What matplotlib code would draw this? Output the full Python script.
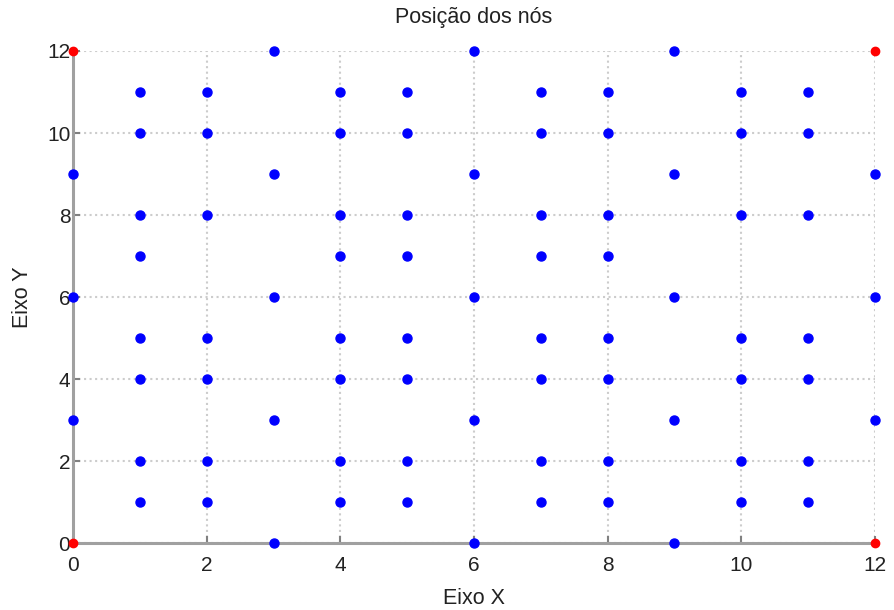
import numpy as np
import matplotlib
matplotlib.use('Agg')
import matplotlib.pyplot as plt

plt.rcParams['font.family'] = ['Liberation Sans', 'DejaVu Sans']

# posicoes dos nos (azul), por coluna x
col_x = [0, 1, 2, 3, 4, 5, 6, 7, 8, 9, 10, 11, 12]
col_y = [
    [3, 6, 9],
    [1, 2, 4, 5, 7, 8, 10, 11],
    [1, 2, 4, 5, 8, 10, 11],
    [0, 3, 6, 9, 12],
    [1, 2, 4, 5, 7, 8, 10, 11],
    [1, 2, 4, 5, 7, 8, 10, 11],
    [0, 3, 6, 9, 12],
    [1, 2, 4, 5, 7, 8, 10, 11],
    [1, 2, 4, 5, 7, 8, 10, 11],
    [0, 3, 6, 9, 12],
    [1, 2, 4, 5, 8, 10, 11],
    [1, 2, 4, 5, 8, 10, 11],
    [3, 6, 9],
]

# nos dos cantos (vermelho)
canto_x = [0, 0, 12, 12]
canto_y = [0, 12, 0, 12]

ticks = [0, 2, 4, 6, 8, 10, 12]

nos_x = []
nos_y = []
for cx, ys in zip(col_x, col_y):
    for cy in ys:
        nos_x.append(cx)
        nos_y.append(cy)

fig = plt.figure(figsize=(8.94, 6.10), dpi=100)
ax = fig.add_axes([0.0817, 0.1098, 0.8970, 0.8066])

ax.plot(nos_x, nos_y, 'o', color='#0000ff', markersize=6.5, clip_on=False, zorder=3)
ax.plot(canto_x, canto_y, 'o', color='#ff0000', markersize=6, clip_on=False, zorder=4)

ax.set_xlim(0, 12)
ax.set_ylim(0, 12)
ax.set_xticks(ticks)
ax.set_yticks(ticks)

ax.grid(True, linestyle=':', color='#cccccc', linewidth=1.5)
ax.set_axisbelow(True)

for s in ['top', 'right']:
    ax.spines[s].set_visible(False)
for s in ['left', 'bottom']:
    ax.spines[s].set_color('#a0a0a0')
    ax.spines[s].set_linewidth(2.2)

ax.tick_params(direction='in', length=5, width=1.5, color='#808080',
               labelsize=15, labelcolor='#222222')
ax.tick_params(axis='x', pad=9)
ax.tick_params(axis='y', pad=2)

ax.set_title('Posição dos nós', fontsize=15.5, color='#222222', pad=20)
ax.set_xlabel('Eixo X', fontsize=15.5, color='#222222', labelpad=10)
ax.set_ylabel('Eixo Y', fontsize=15.5, color='#222222', labelpad=10)

plt.savefig('out.png', dpi=100)
